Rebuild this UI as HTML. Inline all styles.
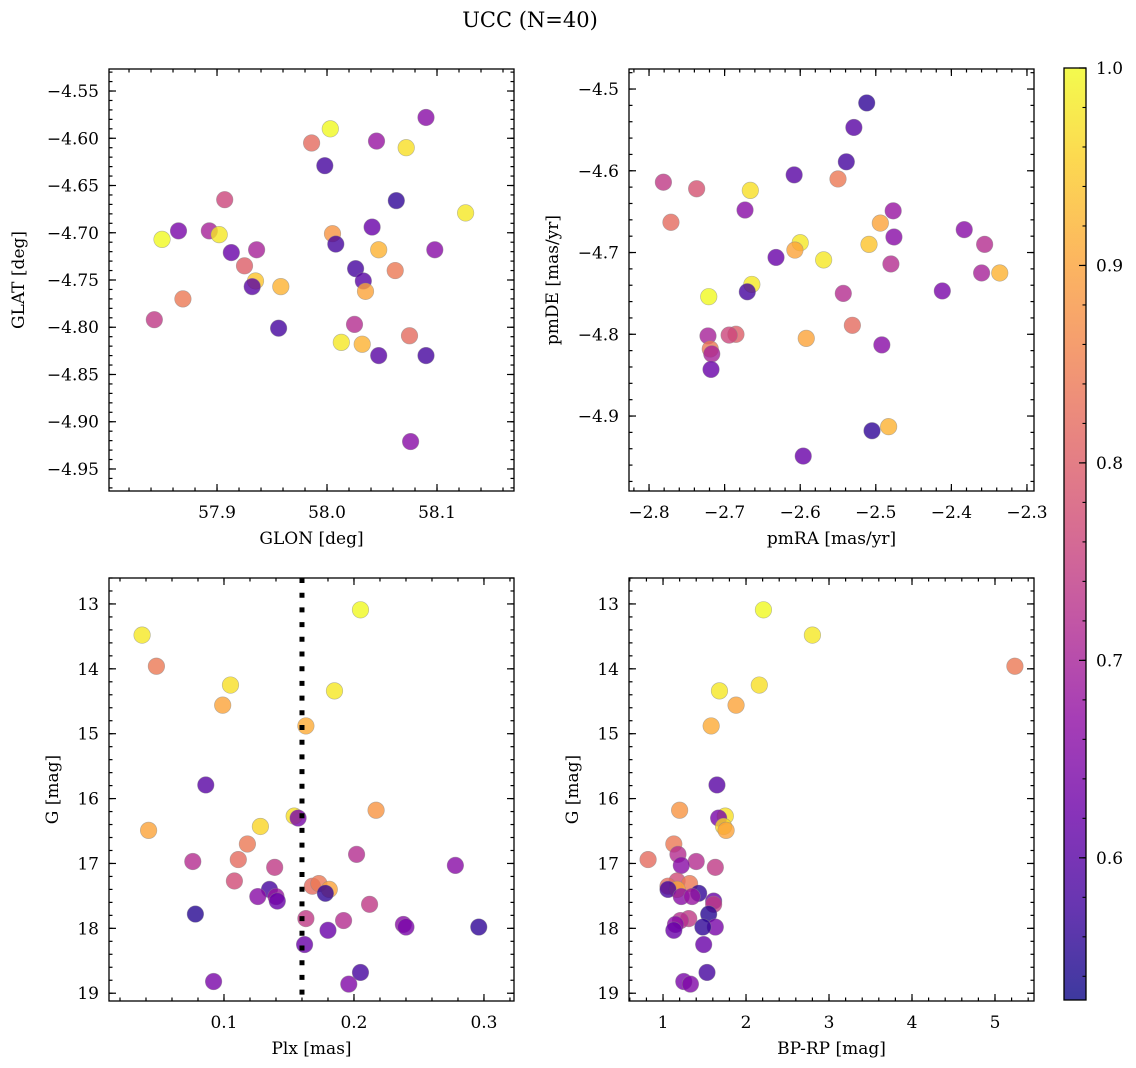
<!DOCTYPE html>
<html><head><meta charset="utf-8"><style>
html,body{margin:0;padding:0;background:#fff;}
svg{display:block;font-family:"DejaVu Serif","Liberation Serif",serif;}
</style></head><body>
<svg id="fig" width="1136" height="1068" viewBox="0 0 1136 1068">
<text x="530" y="27" font-size="21" text-anchor="middle">UCC (N=40)</text>
</svg>
<script>
// ---- Panel 1: GLON vs GLAT ----
const p1Glon = [57.986,58.003,58.045,58.072,58.090,57.998,58.063,57.907,58.126,57.865,57.893,57.850,57.902,57.913,57.936,58.005,58.008,58.041,58.047,58.098,57.925,57.935,57.958,57.932,58.026,58.033,58.035,58.062,57.869,57.843,57.956,58.025,58.013,58.032,58.047,58.075,58.090,58.076];
const p1Glat = [-4.605,-4.590,-4.603,-4.610,-4.578,-4.629,-4.666,-4.665,-4.679,-4.698,-4.698,-4.707,-4.702,-4.721,-4.718,-4.701,-4.712,-4.694,-4.718,-4.718,-4.735,-4.751,-4.757,-4.757,-4.738,-4.751,-4.762,-4.740,-4.770,-4.792,-4.801,-4.797,-4.816,-4.818,-4.830,-4.809,-4.830,-4.921];
const p1Prob = [0.82,1.0,0.68,0.97,0.66,0.58,0.56,0.76,0.98,0.64,0.70,1.0,0.98,0.62,0.70,0.88,0.58,0.62,0.92,0.66,0.80,0.94,0.92,0.60,0.58,0.60,0.90,0.84,0.84,0.74,0.58,0.72,0.98,0.92,0.60,0.82,0.58,0.66];
// ---- Panel 2: pmRA vs pmDE ----
const p2PmRA = [-2.512,-2.529,-2.539,-2.608,-2.550,-2.781,-2.737,-2.666,-2.771,-2.673,-2.494,-2.477,-2.383,-2.356,-2.509,-2.600,-2.607,-2.569,-2.476,-2.632,-2.664,-2.670,-2.480,-2.360,-2.336,-2.721,-2.543,-2.412,-2.722,-2.685,-2.694,-2.719,-2.717,-2.531,-2.592,-2.718,-2.492,-2.505,-2.483,-2.596];
const p2PmDE = [-4.517,-4.547,-4.589,-4.605,-4.610,-4.614,-4.622,-4.624,-4.663,-4.648,-4.664,-4.649,-4.672,-4.690,-4.690,-4.688,-4.697,-4.709,-4.681,-4.706,-4.739,-4.748,-4.714,-4.725,-4.725,-4.754,-4.750,-4.747,-4.802,-4.800,-4.801,-4.818,-4.824,-4.789,-4.805,-4.843,-4.813,-4.918,-4.913,-4.949];
const p2Prob = [0.56,0.60,0.58,0.60,0.84,0.74,0.78,0.97,0.82,0.66,0.90,0.68,0.66,0.72,0.94,0.98,0.90,0.98,0.66,0.62,0.98,0.58,0.72,0.70,0.92,1.0,0.72,0.64,0.70,0.80,0.76,0.84,0.70,0.82,0.90,0.62,0.66,0.56,0.92,0.62];
// ---- Panels 3 & 4: shared stars ----
const gMag = [13.09,13.48,13.96,14.25,14.34,14.56,14.88,15.79,16.18,16.27,16.30,16.43,16.49,16.70,16.86,16.97,16.94,17.06,17.03,17.27,17.35,17.31,17.40,17.46,17.40,17.51,17.51,17.58,17.63,17.78,17.85,17.88,17.94,17.98,17.98,18.03,18.25,18.68,18.82,18.86];
const plx = [0.205,0.037,0.048,0.105,0.185,0.099,0.163,0.086,0.217,0.154,0.157,0.128,0.042,0.118,0.202,0.076,0.111,0.139,0.278,0.108,0.168,0.173,0.181,0.178,0.135,0.126,0.140,0.141,0.212,0.078,0.163,0.192,0.238,0.240,0.296,0.180,0.162,0.205,0.092,0.196];
const bprp = [2.21,2.80,5.24,2.16,1.68,1.88,1.58,1.65,1.20,1.75,1.67,1.73,1.76,1.13,1.18,1.40,0.82,1.63,1.22,1.17,1.06,1.32,1.17,1.43,1.06,1.22,1.35,1.61,1.61,1.55,1.31,1.21,1.15,1.63,1.48,1.13,1.49,1.53,1.25,1.33];
const starProb = [1.0,0.98,0.84,0.97,0.98,0.90,0.91,0.60,0.88,0.97,0.64,0.96,0.90,0.84,0.72,0.72,0.82,0.74,0.66,0.77,0.82,0.84,0.90,0.56,0.58,0.66,0.68,0.62,0.74,0.55,0.74,0.72,0.66,0.64,0.56,0.62,0.62,0.58,0.64,0.65];
const plxLine = [0.16];
// tick label arrays
const p1XTicks = [57.9,58.0,58.1];
const p1YTicks = [-4.55,-4.60,-4.65,-4.70,-4.75,-4.80,-4.85,-4.90,-4.95];
const p2XTicks = [-2.8,-2.7,-2.6,-2.5,-2.4,-2.3];
const p2YTicks = [-4.5,-4.6,-4.7,-4.8,-4.9];
const p3XTicks = [0.1,0.2,0.3];
const gTicks = [13,14,15,16,17,18,19];
const p4XTicks = [1,2,3,4,5];
const cbTicks = [0.6,0.7,0.8,0.9,1.0];
const probMin = 0.528, probMax = 1.0;

const NS = "http://www.w3.org/2000/svg";
const svg = document.getElementById('fig');
function mk(tag, attrs, parent){ const e=document.createElementNS(NS,tag); for(const k in attrs) e.setAttribute(k,attrs[k]); (parent||svg).appendChild(e); return e; }

const stops=[[13,8,135],[65,4,157],[106,0,168],[143,13,164],[177,42,144],[204,71,120],[225,100,98],[242,132,75],[252,166,54],[252,206,37],[240,249,33]];
function plasma(t){ t=Math.max(0,Math.min(1,t)); const f=t*10, i=Math.min(9,Math.floor(f)), r=f-i; const a=stops[i], b=stops[i+1];
  return `rgb(${Math.round(a[0]+(b[0]-a[0])*r)},${Math.round(a[1]+(b[1]-a[1])*r)},${Math.round(a[2]+(b[2]-a[2])*r)})`; }
function pcol(p){ return plasma((p-probMin)/(probMax-probMin)); }
function fmt(v,d){ return (v<0?'\u2212':'')+Math.abs(v).toFixed(d); }

function makeAxis(o){
  const sx=v=>o.x0+(v-o.xmin)/(o.xmax-o.xmin)*(o.x1-o.x0);
  const sy=o.yinv ? v=>o.y0+(v-o.ymin)/(o.ymax-o.ymin)*(o.y1-o.y0) : v=>o.y1-(v-o.ymin)/(o.ymax-o.ymin)*(o.y1-o.y0);
  const g=mk('g',{});
  
  
  const tg=mk('g',{stroke:'#000','stroke-width':1.2},g);
  for(let v=Math.ceil(o.xmin/o.xminor-1e-9)*o.xminor; v<=o.xmax+1e-9; v+=o.xminor){ const x=sx(v);
    mk('line',{x1:x,x2:x,y1:o.y1,y2:o.y1-3.5},tg); mk('line',{x1:x,x2:x,y1:o.y0,y2:o.y0+3.5},tg); }
  for(let v=Math.ceil(o.ymin/o.yminor-1e-9)*o.yminor; v<=o.ymax+1e-9; v+=o.yminor){ const y=sy(v);
    mk('line',{x1:o.x0,x2:o.x0+3.5,y1:y,y2:y},tg); mk('line',{x1:o.x1,x2:o.x1-3.5,y1:y,y2:y},tg); }
  o.xt.forEach(v=>{ const x=sx(v);
    mk('line',{x1:x,x2:x,y1:o.y1,y2:o.y1-7},tg); mk('line',{x1:x,x2:x,y1:o.y0,y2:o.y0+7},tg);
    const t=mk('text',{x:x,y:o.y1+27,'font-size':17,'text-anchor':'middle'},g); t.textContent=fmt(v,o.xd);
      });
  o.yt.forEach(v=>{ const y=sy(v);
    mk('line',{x1:o.x0,x2:o.x0+7,y1:y,y2:y},tg); mk('line',{x1:o.x1,x2:o.x1-7,y1:y,y2:y},tg);
    const t=mk('text',{x:o.x0-10,y:y+6,'font-size':17,'text-anchor':'end'},g); t.textContent=fmt(v,o.yd);
      });
  const xl=mk('text',{x:(o.x0+o.x1)/2,y:o.y1+53,'font-size':17,'text-anchor':'middle'},g); xl.textContent=o.xlabel;
   
  const yl=mk('text',{x:o.ylx,y:(o.y0+o.y1)/2,'font-size':17,'text-anchor':'middle',transform:`rotate(-90 ${o.ylx} ${(o.y0+o.y1)/2})`},g); yl.textContent=o.ylabel;
   
  return {sx,sy,g,o};
}
function scatter(ax,xs,ys,ps){
  const g=mk('g',{},ax.g);
   
  xs.forEach((xv,i)=>{ const c=mk('circle',{cx:ax.sx(xv),cy:ax.sy(ys[i]),r:8.3,fill:pcol(ps[i]),'fill-opacity':0.8,stroke:'#888','stroke-opacity':0.6,'stroke-width':0.6},g);
      });
}
function frame(ax){ const o=ax.o; const r=mk('rect',{x:o.x0,y:o.y0,width:o.x1-o.x0,height:o.y1-o.y0,fill:'none',stroke:'#000','stroke-width':1.3},ax.g);
    }

const a1=makeAxis({name:'panel-glon-glat',x0:109,x1:514,y0:69,y1:491,xmin:57.8018,xmax:58.170,ymin:-4.9733,ymax:-4.5267,xt:p1XTicks,yt:p1YTicks,xd:1,yd:2,xminor:0.02,yminor:0.01,xlabel:'GLON [deg]',ylabel:'GLAT [deg]',ylx:24});
scatter(a1,p1Glon,p1Glat,p1Prob); frame(a1);

const a2=makeAxis({name:'panel-pm',x0:629,x1:1034,y0:69,y1:491,xmin:-2.8265,xmax:-2.2907,ymin:-4.9917,ymax:-4.4755,xt:p2XTicks,yt:p2YTicks,xd:1,yd:1,xminor:0.02,yminor:0.02,xlabel:'pmRA [mas/yr]',ylabel:'pmDE [mas/yr]',ylx:558});
scatter(a2,p2PmRA,p2PmDE,p2Prob); frame(a2);

const a3=makeAxis({name:'panel-plx-g',x0:109,x1:514,y0:578,y1:1001,xmin:0.01154,xmax:0.3231,ymin:12.6,ymax:19.12,yinv:true,xt:p3XTicks,yt:gTicks,xd:1,yd:0,xminor:0.02,yminor:0.2,xlabel:'Plx [mas]',ylabel:'G [mag]',ylx:58});
scatter(a3,plx,gMag,starProb);
plxLine.forEach(v=>{ const l=mk('line',{x1:a3.sx(v),x2:a3.sx(v),y1:578,y2:1001,stroke:'#000','stroke-width':5,'stroke-dasharray':'5 9.7'},a3.g);
    });
frame(a3);

const a4=makeAxis({name:'panel-cmd',x0:629,x1:1034,y0:578,y1:1001,xmin:0.59,xmax:5.47,ymin:12.6,ymax:19.12,yinv:true,xt:p4XTicks,yt:gTicks,xd:0,yd:0,xminor:0.2,yminor:0.2,xlabel:'BP-RP [mag]',ylabel:'G [mag]',ylx:578});
scatter(a4,bprp,gMag,starProb); frame(a4);

(function(){
  const x0=1064,x1=1086,y0=68,y1=1000;
  const g=mk('g',{});
   
  const defs=mk('defs',{},g); const lg=mk('linearGradient',{id:'cbg',x1:0,y1:1,x2:0,y2:0},defs);
  for(let i=0;i<=20;i++){ mk('stop',{offset:i/20,'stop-color':plasma(i/20),'stop-opacity':0.8},lg); }
  mk('rect',{x:x0,y:y0,width:x1-x0,height:y1-y0,fill:'url(#cbg)'},g);
  const sy=v=>y1-(v-probMin)/(probMax-probMin)*(y1-y0);
  for(let v=0.54; v<=1.0001; v+=0.02){ const y=sy(v); mk('line',{x1:x1,x2:x1-3.5,y1:y,y2:y,stroke:'#000','stroke-width':1.1},g); }
  cbTicks.forEach(v=>{ const y=sy(v); mk('line',{x1:x1,x2:x1-7,y1:y,y2:y,stroke:'#000','stroke-width':1.2},g);
    const t=mk('text',{x:x1+10,y:y+6,'font-size':17},g); t.textContent=v.toFixed(1);
      });
  mk('rect',{x:x0,y:y0,width:x1-x0,height:y1-y0,fill:'none',stroke:'#000','stroke-width':1.3},g);
})();
</script>
</body></html>
